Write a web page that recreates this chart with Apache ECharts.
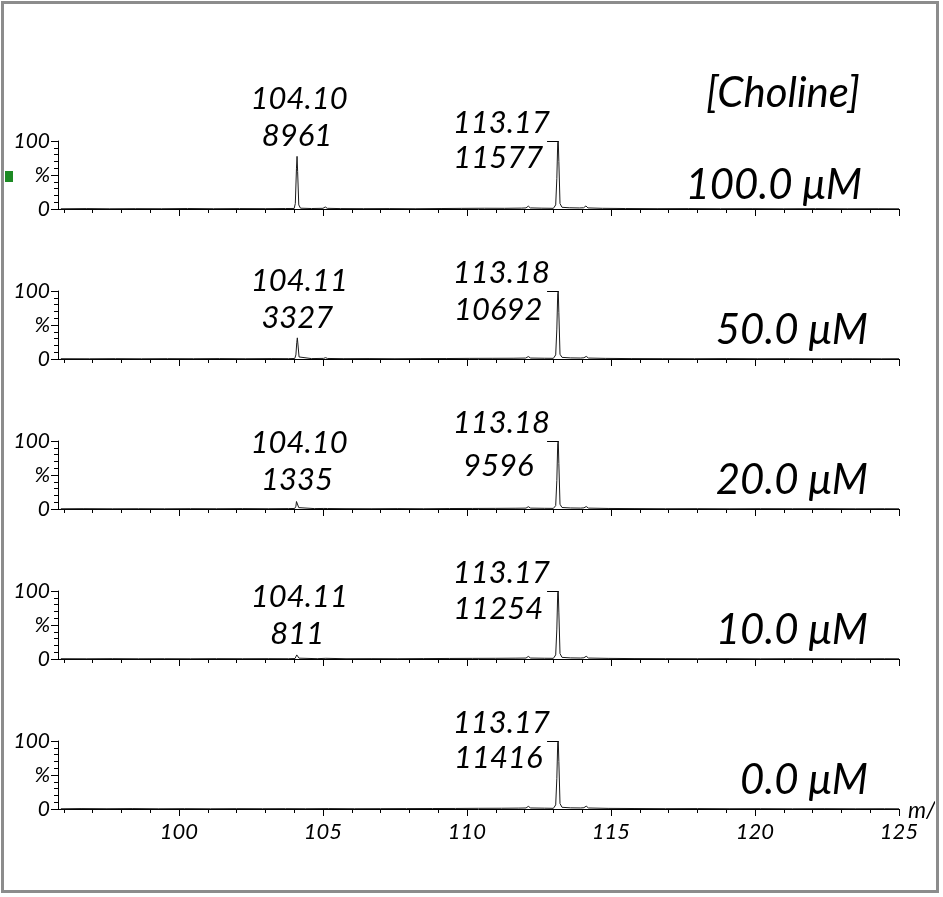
<!DOCTYPE html>
<html><head><meta charset="utf-8">
<script src="https://cdn.jsdelivr.net/npm/echarts@6/dist/echarts.min.js"></script>
<style>html,body{margin:0;padding:0;background:#fff;overflow:hidden}#c{width:943px;height:897px}</style>
</head><body><div id="c"></div>
<script>
// ---------- DATA ----------
const titleText = '[Choline]';
const concentrations = ['100.0 μM', '50.0 μM', '20.0 μM', '10.0 μM', '0.0 μM'];
const xAxisName = 'm/z';
const xMajorTicks = [100, 105, 110, 115, 120, 125];
const xMinorTicks = [96, 97, 98, 99, 101, 102, 103, 104, 106, 107, 108, 109, 111, 112, 113, 114, 116, 117, 118, 119, 121, 122, 123, 124];
const yLabelMap = {0: '0', 50: '%', 100: '100'};

// peak annotations (m/z label, intensity label, m/z position)
const peakA_label = ['104.10', '104.11', '104.10', '104.11', null];
const peakA_int = ['8961', '3327', '1335', '811', null];
const peakA_mz = [104.10, 104.11, 104.10, 104.11, null];
const peakA_rel = [77.4, 31.1, 13.9, 7.2, null];
const peakB_label = ['113.17', '113.18', '113.18', '113.17', '113.17'];
const peakB_int = ['11577', '10692', '9596', '11254', '11416'];
const peakB_mz = [113.17, 113.17, 113.17, 113.17, 113.17];
const leaderStart = [112.78, 112.78, 112.78, 112.78, 112.78];

// spectra [m/z, relative %]
const spec100 = [[95.9,0.3],[96.8,0.6],[97.6,0.3],[98.5,0.5],[99.4,0.4],[100.3,0.7],[101.2,0.4],[102.1,0.6],[103.0,0.5],[103.7,0.7],[104.0,0.8],[104.04,8],[104.08,60],[104.10,77.4],[104.12,55],[104.16,6],[104.22,1.2],[104.6,0.7],[105.0,1.0],[105.08,3.0],[105.15,1.0],[105.6,0.6],[106.4,0.5],[107.3,0.6],[108.2,0.4],[109.1,0.7],[109.8,0.9],[110.6,1.1],[111.3,1.0],[111.9,1.3],[112.05,1.6],[112.13,4.2],[112.2,1.6],[112.6,1.2],[113.0,1.0],[113.08,6],[113.12,45],[113.15,97],[113.17,100],[113.19,70],[113.23,8],[113.3,2.5],[113.55,1.8],[113.9,1.5],[114.05,1.8],[114.13,4.5],[114.2,1.6],[114.7,1.0],[115.5,0.7],[116.6,0.5],[117.7,0.6],[118.8,0.4],[119.9,0.5],[121.0,0.3],[122.1,0.5],[123.2,0.3],[124.3,0.4],[125.0,0.3]];
const spec50 = [[95.9,0.4],[96.9,0.3],[97.8,0.5],[98.7,0.3],[99.6,0.5],[100.5,0.4],[101.4,0.6],[102.3,0.4],[103.2,0.6],[103.8,0.5],[104.02,0.8],[104.06,6],[104.09,24],[104.11,31.1],[104.13,22],[104.17,3],[104.23,1.0],[104.6,0.6],[105.02,0.9],[105.09,2.0],[105.16,0.8],[105.7,0.5],[106.6,0.6],[107.5,0.4],[108.4,0.6],[109.3,0.7],[110.1,0.9],[110.9,1.0],[111.6,1.1],[112.04,1.4],[112.13,3.6],[112.21,1.4],[112.7,1.1],[113.0,1.0],[113.08,6],[113.12,44],[113.15,96],[113.17,100],[113.19,68],[113.23,7],[113.3,2.4],[113.6,1.6],[113.95,1.4],[114.06,1.8],[114.14,3.8],[114.22,1.4],[114.8,0.9],[115.7,0.6],[116.8,0.5],[117.9,0.4],[119.0,0.6],[120.1,0.4],[121.2,0.5],[122.3,0.3],[123.4,0.4],[124.4,0.3],[125.0,0.4]];
const spec20 = [[95.9,0.3],[96.7,0.5],[97.7,0.3],[98.6,0.4],[99.5,0.3],[100.4,0.5],[101.3,0.4],[102.2,0.6],[103.1,0.4],[103.8,0.6],[104.02,0.8],[104.06,4],[104.08,11],[104.10,13.9],[104.12,10],[104.16,2],[104.22,0.9],[104.7,0.6],[105.03,0.8],[105.09,1.6],[105.16,0.7],[105.8,0.5],[106.7,0.4],[107.6,0.6],[108.5,0.4],[109.4,0.7],[110.2,0.8],[111.0,0.9],[111.7,1.1],[112.05,1.3],[112.13,3.4],[112.21,1.3],[112.7,1.0],[113.0,0.9],[113.08,5],[113.12,42],[113.15,96],[113.17,100],[113.19,67],[113.23,7],[113.3,2.2],[113.6,1.5],[113.95,1.3],[114.06,1.7],[114.14,3.6],[114.22,1.3],[114.9,0.8],[115.8,0.6],[116.9,0.4],[118.0,0.5],[119.1,0.3],[120.2,0.5],[121.3,0.4],[122.4,0.5],[123.5,0.3],[124.5,0.4],[125.0,0.3]];
const spec10 = [[95.9,0.4],[96.8,0.3],[97.7,0.5],[98.6,0.3],[99.5,0.4],[100.4,0.3],[101.3,0.5],[102.2,0.4],[103.1,0.5],[103.8,0.4],[104.03,0.7],[104.07,3],[104.09,6],[104.11,7.2],[104.13,5],[104.17,1.2],[104.23,0.7],[104.8,0.5],[105.1,1.0],[105.8,0.4],[106.7,0.5],[107.6,0.4],[108.5,0.6],[109.4,0.8],[110.2,0.9],[111.0,1.0],[111.7,1.2],[112.05,1.4],[112.13,3.8],[112.21,1.4],[112.7,1.1],[113.0,1.0],[113.08,6],[113.12,44],[113.15,97],[113.17,100],[113.19,69],[113.23,8],[113.3,2.4],[113.6,1.6],[113.95,1.4],[114.06,1.8],[114.14,4.0],[114.22,1.4],[114.9,0.9],[115.8,0.6],[116.9,0.5],[118.0,0.4],[119.1,0.5],[120.2,0.3],[121.3,0.5],[122.4,0.4],[123.5,0.3],[124.5,0.4],[125.0,0.3]];
const spec0 = [[95.9,0.3],[96.6,0.6],[97.5,0.4],[98.4,0.6],[99.3,0.3],[100.2,0.5],[101.1,0.3],[102.0,0.5],[102.9,0.4],[103.7,0.5],[104.4,0.4],[105.2,0.6],[106.1,0.4],[107.0,0.5],[107.9,0.6],[108.8,0.7],[109.6,0.8],[110.4,1.0],[111.2,1.1],[111.8,1.3],[112.05,1.5],[112.13,3.9],[112.21,1.5],[112.7,1.2],[113.0,1.0],[113.08,6],[113.12,45],[113.15,97],[113.17,100],[113.19,70],[113.23,8],[113.3,2.5],[113.6,1.7],[113.95,1.5],[114.06,1.9],[114.14,4.2],[114.22,1.5],[114.9,0.9],[115.8,0.7],[116.9,0.5],[118.0,0.6],[119.1,0.4],[120.2,0.5],[121.3,0.3],[122.4,0.5],[123.5,0.3],[124.5,0.4],[125.0,0.3]];
const spectra = [spec100, spec50, spec20, spec10, spec0];

// ---------- LAYOUT ----------
const FONT = 'Lato';
const gridLeft = 58, gridWidth = 841, gridTop0 = 141, gridPitch = 150, gridHeight = 68;
const xMin = 95.8, xMax = 125;
const intOffsetB = [17, 19, 25, 18, 17];

const chart = echarts.init(document.getElementById('c'), null, {renderer: 'canvas'});
const grids = [], xAxes = [], yAxes = [], series = [];
for (let i = 0; i < 5; i++) {
  grids.push({left: gridLeft, width: gridWidth, top: gridTop0 + i * gridPitch, height: gridHeight, containLabel: false});
  const isLast = i === 4;
  xAxes.push({
    gridIndex: i, type: 'value', min: xMin, max: xMax, position: 'bottom',
    axisLine: {show: true, onZero: false, lineStyle: {color: '#000', width: 1}},
    axisTick: {show: true, customValues: xMajorTicks, length: 7, lineStyle: {color: '#000', width: 1}},
    axisLabel: {show: isLast, customValues: xMajorTicks, margin: 12, color: '#000', fontSize: 22, fontStyle: 'italic', fontFamily: FONT},
    splitLine: {show: false}
  });
  xAxes.push({
    gridIndex: i, type: 'value', min: xMin, max: xMax, position: 'bottom',
    axisLine: {show: false},
    axisTick: {show: true, customValues: xMinorTicks, length: 4, lineStyle: {color: '#000', width: 1}},
    axisLabel: {show: false},
    splitLine: {show: false}
  });
  yAxes.push({
    gridIndex: i, type: 'value', min: 0, max: 100, interval: 50,
    axisLine: {show: true, lineStyle: {color: '#000', width: 1}},
    axisTick: {show: true, length: 7, lineStyle: {color: '#000', width: 1}},
    minorTick: {show: true, splitNumber: 5, length: 4, lineStyle: {color: '#000', width: 1}},
    axisLabel: {margin: 8, color: '#000', fontSize: 21, fontStyle: 'italic', fontFamily: FONT,
      formatter: v => yLabelMap[v] !== undefined ? yLabelMap[v] : ''},
    splitLine: {show: false}, minorSplitLine: {show: false}
  });
  series.push({
    type: 'line', xAxisIndex: 2 * i, yAxisIndex: i, data: spectra[i],
    symbol: 'none', silent: true, clip: false,
    lineStyle: {color: '#1a1a1a', width: 1},
    markLine: {
      silent: true, symbol: 'none', label: {show: false},
      lineStyle: {color: '#000', width: 1, type: 'solid'},
      data: [[{coord: [leaderStart[i], 100]}, {coord: [peakB_mz[i], 100]}]]
    }
  });
}

chart.setOption({
  animation: false, backgroundColor: '#fff',
  grid: grids, xAxis: xAxes, yAxis: yAxes, series: series
});

// ---------- TEXT ANNOTATIONS ----------
const g = [];
const txt = (text, x, y, size, align) => ({
  type: 'text', z: 100, style: {text: text, x: x, y: y, fill: '#000', font: 'italic ' + size + 'px ' + FONT,
    textAlign: align || 'center', textVerticalAlign: 'middle'}
});
for (let i = 0; i < 5; i++) {
  const top = gridTop0 + i * gridPitch;
  if (peakA_label[i]) {
    const px = chart.convertToPixel({xAxisIndex: 2 * i}, peakA_mz[i]);
    const py = chart.convertToPixel({yAxisIndex: i}, peakA_rel[i]);
    g.push(txt(peakA_label[i], px + 2, py - 57, 31));
    g.push(txt(peakA_int[i], px + 0, py - 20, 31));
  }
  const bx = chart.convertToPixel({xAxisIndex: 2 * i}, peakB_mz[i]);
  g.push(txt(peakB_label[i], bx - 57, top - 18, 31));
  g.push(txt(peakB_int[i], bx - 60, top + intOffsetB[i], 31));
  g.push(txt(concentrations[i], 868 - (i === 0 ? 6 : 0), top + (i === 0 ? 44 : 39), 42, 'right'));
}
g.push(txt(titleText, 783, 93, 42));
g.push({type: 'text', z: 100, style: {text: xAxisName, x: 908, y: 811, fill: '#000', font: 'italic 23px ' + FONT, textAlign: 'left', textVerticalAlign: 'middle'}});
// page frame and marker
g.push({type: 'rect', z: 150, shape: {x: 935, y: 0, width: 10, height: 897}, style: {fill: '#fff'}});
g.push({type: 'rect', z: 160, shape: {x: 2.5, y: 2.5, width: 935, height: 889}, style: {fill: 'none', stroke: '#8c8c8c', lineWidth: 3}});
g.push({type: 'rect', z: 170, shape: {x: 5, y: 171, width: 8, height: 11}, style: {fill: '#1d8a24'}});
chart.setOption({graphic: g});
</script></body></html>
